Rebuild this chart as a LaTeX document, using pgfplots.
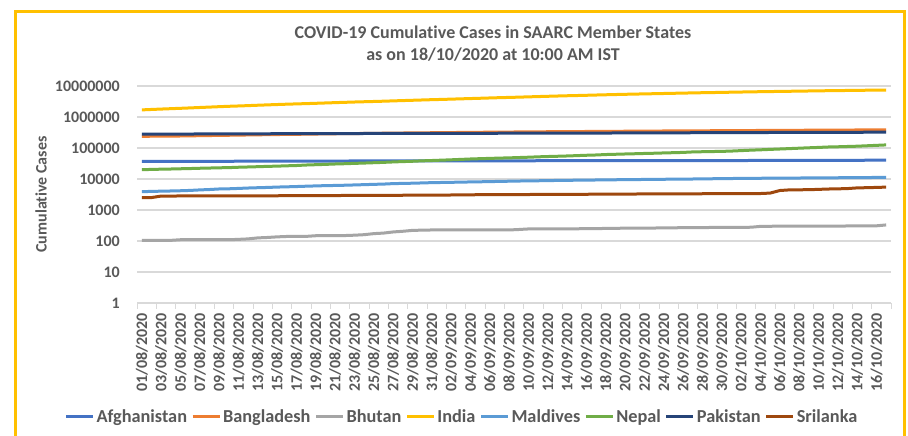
\documentclass[border=0pt]{standalone}
\usepackage{pgfplots}
\pgfplotsset{compat=1.18}
\usepackage{pgfplotstable}
\usepackage{fontspec}
\setmainfont[Ligatures={NoCommon}]{Carlito}

\definecolor{txt}{HTML}{595959}
\definecolor{grd}{HTML}{D9D9D9}
\definecolor{frm}{HTML}{FFC000}
\definecolor{cAfg}{HTML}{4472C4}
\definecolor{cBan}{HTML}{ED7D31}
\definecolor{cBhu}{HTML}{A5A5A5}
\definecolor{cInd}{HTML}{FFC000}
\definecolor{cMal}{HTML}{5B9BD5}
\definecolor{cNep}{HTML}{70AD47}
\definecolor{cPak}{HTML}{264478}
\definecolor{cSri}{HTML}{9E480E}

% day index (0 = 01/08/2020) and cumulative cases
\pgfplotstableread{
i Afg Ban Bhu Ind Mal Nep Pak Sri
0 36710 237661 105 1695988 3882 20086 279699 2500
1 36747 239860 105 1750723 3997 20332 280461 2520
2 36782 240746 105 1803695 4041 20750 280970 2815
3 36829 242102 105 1855745 4108 21009 281136 2823
4 36896 244020 110 1908254 4180 21390 281863 2834
5 37015 246674 110 1964536 4283 21750 282645 2839
6 37054 249651 110 2027074 4449 22214 283487 2841
7 37162 252502 110 2088611 4578 22592 284121 2844
8 37269 255113 110 2153010 4770 22972 284660 2844
9 37345 257600 110 2215074 4833 23310 285191 2844
10 37424 260507 113 2268675 4966 23948 285921 2854
11 37431 263503 117 2329638 5121 24432 286674 2869
12 37551 266498 126 2396637 5237 24956 287300 2879
13 37596 269115 130 2461190 5342 25551 288047 2882
14 37599 271881 136 2526192 5494 26019 288717 2882
15 37599 274525 140 2589682 5596 26660 289215 2889
16 37856 276549 141 2647663 5712 27240 289832 2902
17 37894 279144 141 2702742 5856 28257 290445 2908
18 37953 282344 148 2767273 5987 28938 290958 2923
19 37999 285091 148 2836925 6110 29645 291588 2924
20 38054 287959 150 2905823 6191 30483 292174 2930
21 38070 290360 150 2975701 6297 31116 292765 2941
22 38113 292625 154 3044940 6433 31935 293261 2947
23 38129 294598 160 3106348 6573 32677 293711 2953
24 38140 297083 173 3167323 6725 33533 294193 2959
25 38143 299628 180 3234474 6855 34417 294638 2966
26 38162 302147 196 3310234 7103 35528 295053 2983
27 38196 304583 206 3387500 7205 36456 295372 2992
28 38243 306794 220 3463972 7317 37339 295636 2997
29 38288 308925 224 3542733 7470 38561 295849 3006
30 38304 310822 227 3621245 7627 39460 296149 3012
31 38324 312996 227 3691166 7725 40528 296590 3032
32 38398 314946 227 3769523 7822 41649 297014 3049
33 38494 317528 227 3853406 7935 42876 297512 3075
34 38520 319686 227 3936747 8038 44235 297972 3100
35 38544 321615 227 4023179 8135 45276 298509 3111
36 38572 323565 227 4113811 8239 46256 298903 3120
37 38606 325157 227 4204613 8373 47235 299233 3142
38 38641 327359 227 4280422 8483 48138 299659 3147
39 38716 329251 235 4370128 8604 49218 300030 3154
40 38772 331078 245 4465863 8722 50465 300371 3162
41 38815 332970 245 4562414 8773 51919 300955 3171
42 38855 334762 246 4659984 8877 53120 301481 3179
43 38872 336044 246 4754356 8989 54158 302020 3195
44 38883 337520 247 4846427 9087 55328 302424 3204
45 38919 339332 248 4930236 9135 56788 302814 3211
46 39044 341056 250 5020359 9215 58327 303089 3220
47 39074 342671 250 5118253 9295 59573 303634 3234
48 39096 344264 255 5214677 9375 61593 304386 3250
49 39145 345805 256 5308014 9452 62796 305031 3259
50 39170 347372 260 5400619 9521 64122 305671 3271
51 39186 348916 261 5487580 9591 65275 306304 3282
52 39192 350621 262 5562663 9663 66631 306886 3287
53 39227 352178 262 5646010 9735 67803 307418 3293
54 39233 353844 266 5732518 9806 69300 308217 3306
55 39254 355384 266 5818570 9876 70613 308799 3313
56 39268 356767 270 5903932 9937 72092 309581 3324
57 39285 357873 271 5992532 10002 74744 310841 3333
58 39290 359148 272 6074702 10093 75832 311516 3345
59 39297 360555 273 6145291 10184 76903 312263 3354
60 39341 362043 275 6225763 10291 77817 312806 3380
61 39422 363479 275 6312584 10373 79728 313431 3382
62 39486 364987 276 6394068 10421 82406 314616 3388
63 39548 366383 278 6473544 10494 85122 315260 3395
64 39616 367565 296 6549373 10569 87451 315714 3402
65 39693 368690 299 6623815 10630 90246 316434 3513
66 39703 370132 300 6685082 10697 92853 317062 4252
67 39799 371631 301 6757131 10743 95611 317898 4459
68 39870 373151 301 6835655 10765 98617 318666 4488
69 39928 374592 302 6906151 10826 101622 318932 4523
70 39994 375870 303 6979423 10868 104368 319317 4628
71 40026 377073 304 7053806 10913 107755 319848 4752
72 40073 378266 304 7120538 10972 109598 320463 4817
73 40141 379738 305 7175880 11042 111877 321218 4910
74 40200 381275 306 7239389 11097 114317 321877 5170
75 40287 382959 307 7307097 11143 117974 322452 5244
76 40357 384559 309 7370468 11223 121739 323019 5354
77 40510 385725 330 7432680 11305 125906 323452 5475
}\cases

\begin{document}
\begin{tikzpicture}[x=1pt,y=1pt]
\useasboundingbox (0,0) rectangle (908,-436);
\fill[white] (0,0) rectangle (908,-436);
\draw[frm, line width=3pt] (15.5,-11.5) rectangle (904.5,-470);

\node[font=\fontsize{18}{22}\selectfont\bfseries, text=txt, align=center]
  at (493,-44) {COVID-19 Cumulative Cases in SAARC Member States\\as on 18/10/2020 at 10:00 AM IST};
\node[rotate=90, font=\fontsize{16}{19}\selectfont\bfseries, text=txt]
  at (41,-194.5) {Cumulative Cases};

\begin{axis}[
    at={(137pt,-303pt)}, anchor=south west,
    scale only axis, width=754pt, height=217pt,
    ymode=log, ymin=1, ymax=10000000,
    xmin=-0.5, xmax=77.5,
    ytick={1,10,100,1000,10000,100000,1000000,10000000},
    yticklabels={1,10,100,1000,10000,100000,1000000,10000000},
    xtick={0,2,...,76},
    xticklabels={01/08/2020,03/08/2020,05/08/2020,07/08/2020,09/08/2020,11/08/2020,13/08/2020,15/08/2020,17/08/2020,19/08/2020,21/08/2020,23/08/2020,25/08/2020,27/08/2020,29/08/2020,31/08/2020,02/09/2020,04/09/2020,06/09/2020,08/09/2020,10/09/2020,12/09/2020,14/09/2020,16/09/2020,18/09/2020,20/09/2020,22/09/2020,24/09/2020,26/09/2020,28/09/2020,30/09/2020,02/10/2020,04/10/2020,06/10/2020,08/10/2020,10/10/2020,12/10/2020,14/10/2020,16/10/2020},
    minor xtick={-0.5,1.5,...,77.5},
    yminorticks=false,
    tick align=outside, xtick pos=left, ytick pos=left,
    major tick length=0pt, minor tick length=6pt,
    xtick style={color=grd, line width=1pt},
    ytick style={draw=none},
    axis line style={draw=none},
    ymajorgrids, grid style={color=grd, line width=1.3pt},
    ticklabel style={font=\fontsize{16}{19}\selectfont\bfseries, text=txt},
    xticklabel style={rotate=90, anchor=east, inner sep=0pt, xshift=-10pt},
    yticklabel style={anchor=east, inner sep=0pt, xshift=-17pt},
    legend columns=8,
    legend style={at={(0.431,-0.525)}, anchor=center, draw=none, fill=none,
      font=\fontsize{18.3}{22}\selectfont\bfseries, text=txt,
      /tikz/every odd column/.append style={column sep=0pt},
      /tikz/every even column/.append style={column sep=2pt}},
    legend cell align=left,
    legend image code/.code={\draw[#1, line width=3pt] (0pt,0pt) -- (27pt,0pt);},
    every axis plot/.append style={line width=3pt, line join=round},
]
\addplot[cAfg, no markers] table[x=i, y=Afg] {\cases};
\addlegendentry{Afghanistan}
\addplot[cBan, no markers] table[x=i, y=Ban] {\cases};
\addlegendentry{Bangladesh}
\addplot[cBhu, no markers] table[x=i, y=Bhu] {\cases};
\addlegendentry{Bhutan}
\addplot[cInd, no markers] table[x=i, y=Ind] {\cases};
\addlegendentry{India}
\addplot[cMal, no markers] table[x=i, y=Mal] {\cases};
\addlegendentry{Maldives}
\addplot[cNep, no markers] table[x=i, y=Nep] {\cases};
\addlegendentry{Nepal}
\addplot[cPak, no markers] table[x=i, y=Pak] {\cases};
\addlegendentry{Pakistan}
\addplot[cSri, no markers] table[x=i, y=Sri] {\cases};
\addlegendentry{Srilanka}
\end{axis}
\end{tikzpicture}
\end{document}
